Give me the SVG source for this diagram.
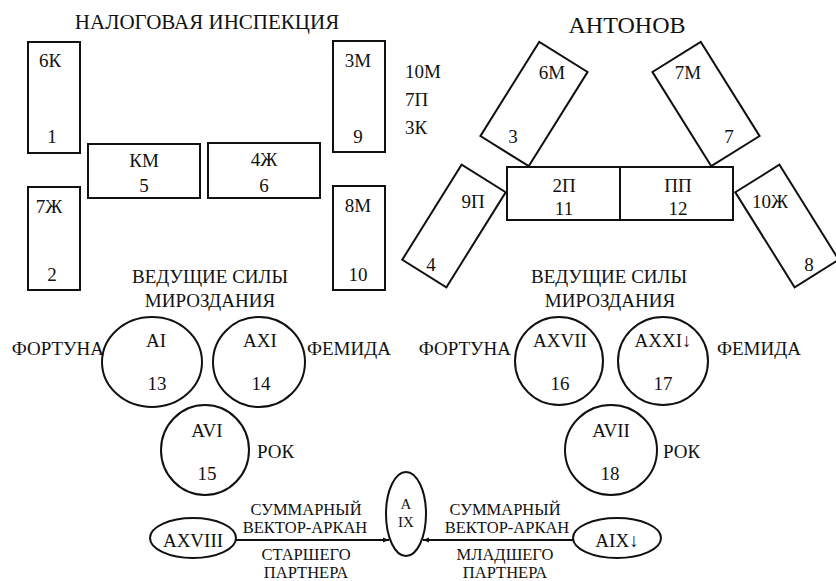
<svg xmlns="http://www.w3.org/2000/svg" width="836" height="581" viewBox="0 0 836 581">
<defs>
<style>
text{font-family:"Liberation Serif","Times New Roman",serif;font-size:19px;fill:#111;text-anchor:middle}
.t{font-size:21px}
.big{font-size:24px}
.s{font-size:16.5px}
.a9{font-size:15px}
.box{fill:none;stroke:#111;stroke-width:2}
.ln{stroke:#111;stroke-width:2;fill:none}
</style>
<marker id="ah" viewBox="0 0 10 10" refX="10" refY="5" markerWidth="6" markerHeight="6" orient="auto" markerUnits="userSpaceOnUse">
<path d="M0,1 L10,5 L0,9 z" fill="#111"/>
</marker>
</defs>
<rect width="836" height="581" fill="#fff"/>

<text class="t" x="207" y="29">НАЛОГОВАЯ ИНСПЕКЦИЯ</text>
<text class="big" x="627" y="33">АНТОНОВ</text>

<g id="n1"><rect class="box" x="28" y="42" width="52" height="111"/><text x="50" y="67">6К</text><text x="52" y="143">1</text></g>
<g id="n2"><rect class="box" x="28" y="187" width="52" height="103"/><text x="49" y="213">7Ж</text><text x="52" y="281">2</text></g>
<g id="n5"><rect class="box" x="88" y="144" width="112" height="54"/><text x="144" y="167">КМ</text><text x="144" y="192">5</text></g>
<g id="n6"><rect class="box" x="208" y="143" width="112" height="55"/><text x="264" y="166">4Ж</text><text x="264" y="192">6</text></g>
<g id="n9"><rect class="box" x="333" y="41" width="52" height="111"/><text x="358" y="67">3М</text><text x="358" y="143">9</text></g>
<g id="n10"><rect class="box" x="333" y="186" width="52" height="104"/><text x="358" y="212">8М</text><text x="358" y="281">10</text></g>

<g id="side"><text x="405" y="78" style="text-anchor:start">10М</text><text x="405" y="106" style="text-anchor:start">7П</text><text x="405" y="134" style="text-anchor:start">3К</text></g>

<g id="n3"><rect class="box" x="-28.5" y="-55.5" width="57" height="111" transform="translate(534,104) rotate(32)"/><text x="552" y="79">6М</text><text x="513" y="143">3</text></g>
<g id="n7"><rect class="box" x="-28.5" y="-55.5" width="57" height="111" transform="translate(706,104) rotate(-32)"/><text x="688" y="79">7М</text><text x="729" y="143">7</text></g>
<g id="n4"><rect class="box" x="-26" y="-56" width="52" height="112" transform="translate(454,226) rotate(32)"/><text x="473" y="208">9П</text><text x="431" y="271">4</text></g>
<g id="n8"><rect class="box" x="-26" y="-56" width="52" height="112" transform="translate(787,226) rotate(-32)"/><text x="770" y="208">10Ж</text><text x="809" y="271">8</text></g>
<g id="n11"><rect class="box" x="507" y="167" width="113" height="53"/><text x="564" y="192">2П</text><text x="564" y="215">11</text></g>
<g id="n12"><rect class="box" x="620" y="167" width="113" height="53"/><text x="678" y="192">ПП</text><text x="678" y="215">12</text></g>

<g id="head-left"><text x="210" y="283">ВЕДУЩИЕ СИЛЫ</text><text x="210" y="307">МИРОЗДАНИЯ</text></g>
<g id="head-right"><text x="609" y="283">ВЕДУЩИЕ СИЛЫ</text><text x="610" y="307">МИРОЗДАНИЯ</text></g>

<g id="n13"><ellipse class="box" cx="152" cy="362" rx="50" ry="45"/><text x="156" y="347">AI</text><text x="157" y="390">13</text></g>
<g id="n14"><ellipse class="box" cx="259" cy="362" rx="46" ry="45"/><text x="260" y="347">AXI</text><text x="261" y="390">14</text></g>
<g id="n15"><ellipse class="box" cx="205" cy="450" rx="44" ry="45"/><text x="207" y="437">AVI</text><text x="207" y="480">15</text></g>
<text x="104" y="355" style="text-anchor:end">ФОРТУНА</text>
<text x="307" y="355" style="text-anchor:start">ФЕМИДА</text>
<text x="257" y="458" style="text-anchor:start">РОК</text>

<g id="n16"><ellipse class="box" cx="559" cy="361" rx="44" ry="44"/><text x="560" y="347">AXVII</text><text x="560" y="390">16</text></g>
<g id="n17"><ellipse class="box" cx="663" cy="361" rx="45" ry="44"/><text x="663" y="347">AXXI↓</text><text x="663" y="390">17</text></g>
<g id="n18"><ellipse class="box" cx="611" cy="450" rx="46" ry="45"/><text x="611" y="437">AVII</text><text x="610" y="480">18</text></g>
<text x="511" y="355" style="text-anchor:end">ФОРТУНА</text>
<text x="717" y="355" style="text-anchor:start">ФЕМИДА</text>
<text x="663" y="458" style="text-anchor:start">РОК</text>

<g id="n-a18"><ellipse class="box" cx="193" cy="538" rx="43" ry="20"/><text x="193" y="547">AXVIII</text></g>
<g id="n-a9"><ellipse class="box" cx="406" cy="514" rx="20" ry="42"/><text class="a9" x="406" y="509">A</text><text class="a9" x="406" y="527">IX</text></g>
<g id="n-a9b"><ellipse class="box" cx="617" cy="538" rx="44" ry="20"/><text x="617" y="547">AIX↓</text></g>

<g id="connectors">
<line class="ln" x1="236" y1="540" x2="389" y2="540" marker-end="url(#ah)"/>
<line class="ln" x1="573" y1="540" x2="423" y2="540" marker-end="url(#ah)"/>
</g>

<g id="labels-bottom">
<text class="s" x="306" y="515">СУММАРНЫЙ</text>
<text class="s" x="305" y="533">ВЕКТОР-АРКАН</text>
<text class="s" x="306" y="560">СТАРШЕГО</text>
<text class="s" x="306" y="578">ПАРТНЕРА</text>
<text class="s" x="505" y="515">СУММАРНЫЙ</text>
<text class="s" x="507" y="533">ВЕКТОР-АРКАН</text>
<text class="s" x="505" y="560">МЛАДШЕГО</text>
<text class="s" x="505" y="578">ПАРТНЕРА</text>
</g>
</svg>
